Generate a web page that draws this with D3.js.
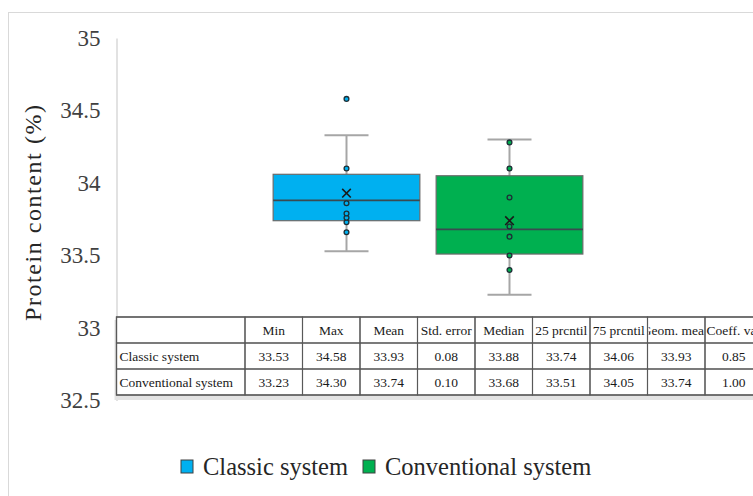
<!DOCTYPE html>
<html lang="en">
<head>
    <meta charset="UTF-8">
    <title>Protein content</title>
    <script src="https://cdn.jsdelivr.net/npm/d3@7"></script>
    <style>
        body {
            margin: 0;
            background: #ffffff;
        }

        svg {
            display: block;
            font-family: "Liberation Serif", "Times New Roman", serif;
        }
    </style>
</head>
<body>
<svg width="753" height="496"></svg>

<script>
    var seriesNames = ['Classic system', 'Conventional system'];
    var seriesColors = ['#00b0f0', '#00b050'];
    var q1 = [33.74, 33.51];
    var medians = [33.88, 33.68];
    var q3 = [34.06, 34.05];
    var whiskerLow = [33.53, 33.23];
    var whiskerHigh = [34.33, 34.30];
    var means = [33.93, 33.74];
    var points = [
        [33.66, 33.73, 33.76, 33.79, 33.86, 34.10, 34.58],
        [33.40, 33.50, 33.63, 33.70, 33.90, 34.10, 34.28]
    ];
    var yTicks = [32.5, 33, 33.5, 34, 34.5, 35];

    // statistics table
    var tableHeaders = ['', 'Min', 'Max', 'Mean', 'Std. error', 'Median', '25 prcntil', '75 prcntil', 'Geom. mean', 'Coeff. var'];
    var classicRow = ['Classic system', '33.53', '34.58', '33.93', '0.08', '33.88', '33.74', '34.06', '33.93', '0.85'];
    var conventionalRow = ['Conventional system', '33.23', '34.30', '33.74', '0.10', '33.68', '33.51', '34.05', '33.74', '1.00'];

    var svg = d3.select('svg');

    // chart area border
    svg.append('rect')
        .attr('x', 8.5)
        .attr('y', 12.5)
        .attr('width', 900)
        .attr('height', 700)
        .attr('fill', '#ffffff')
        .attr('stroke', '#d9d9d9');

    var y = d3.scaleLinear().domain([32.5, 35]).range([400.5, 38]);
    var x = d3.scaleBand().domain(seriesNames).range([265, 591]).paddingInner(0.1).paddingOuter(0.05);

    // y axis
    var yAxis = svg.append('g')
        .attr('transform', 'translate(116.5,0)')
        .call(d3.axisLeft(y).tickValues(yTicks).tickSize(0).tickPadding(16).tickFormat(d3.format('')));
    yAxis.attr('font-family', '"Liberation Serif", "Times New Roman", serif')
        .attr('font-size', 23);
    yAxis.select('.domain').attr('stroke', '#d9d9d9').attr('stroke-width', 1.5);
    yAxis.selectAll('text')
        .attr('fill', '#404040');

    svg.append('text')
        .attr('transform', 'translate(41,213) rotate(-90)')
        .attr('text-anchor', 'middle')
        .attr('fill', '#262626')
        .attr('textLength', 216)
        .attr('lengthAdjust', 'spacing')
        .style('font-size', '24px')
        .text('Protein content (%)');

    // boxes
    var boxes = svg.append('g').selectAll('g')
        .data(seriesNames)
        .enter()
        .append('g');

    boxes.each(function (name, i) {
        var g = d3.select(this);
        var cx = x(name) + x.bandwidth() / 2;
        var capW = 44;

        g.append('line')
            .attr('x1', cx).attr('x2', cx)
            .attr('y1', y(whiskerHigh[i])).attr('y2', y(whiskerLow[i]))
            .attr('stroke', '#a6a6a6').attr('stroke-width', 2);
        g.selectAll('.cap')
            .data([whiskerLow[i], whiskerHigh[i]])
            .enter()
            .append('line')
            .attr('class', 'cap')
            .attr('x1', cx - capW / 2).attr('x2', cx + capW / 2)
            .attr('y1', function (d) { return y(d); })
            .attr('y2', function (d) { return y(d); })
            .attr('stroke', '#a6a6a6').attr('stroke-width', 2);

        g.append('rect')
            .attr('x', x(name))
            .attr('y', y(q3[i]))
            .attr('width', x.bandwidth())
            .attr('height', y(q1[i]) - y(q3[i]))
            .attr('fill', seriesColors[i])
            .attr('stroke', '#6b6b6b')
            .attr('stroke-width', 1.2);

        g.append('line')
            .attr('x1', x(name)).attr('x2', x(name) + x.bandwidth())
            .attr('y1', y(medians[i])).attr('y2', y(medians[i]))
            .attr('stroke', '#3a4a50').attr('stroke-width', 1.6);

        g.selectAll('circle')
            .data(points[i])
            .enter()
            .append('circle')
            .attr('cx', cx)
            .attr('cy', function (d) { return y(d); })
            .attr('r', 2.4)
            .attr('fill', seriesColors[i])
            .attr('stroke', '#1d2f36')
            .attr('stroke-width', 1.3);

        g.append('path')
            .attr('transform', 'translate(' + cx + ',' + y(means[i]) + ')')
            .attr('d', d3.symbol(d3.symbolTimes).size(50))
            .attr('fill', 'none')
            .attr('stroke', '#1a1a1a')
            .attr('stroke-width', 1.6);
    });

    // table
    var tableRows = [tableHeaders, classicRow, conventionalRow];
    var tableLeft = 116.5, tableTop = 317, rowH = 26, firstColW = 128.5, colW = 57.5;

    function colX(c) {
        return c === 0 ? tableLeft : tableLeft + firstColW + (c - 1) * colW;
    }

    function colWidth(c) {
        return c === 0 ? firstColW : colW;
    }

    var tableW = firstColW + (tableHeaders.length - 1) * colW;
    var table = svg.append('g');
    var defs = svg.append('defs');

    table.append('rect')
        .attr('x', tableLeft - 2)
        .attr('y', tableTop + 3)
        .attr('width', tableW)
        .attr('height', rowH * 3 + 2)
        .attr('fill', '#e3e3e3');
    table.append('rect')
        .attr('x', tableLeft)
        .attr('y', tableTop)
        .attr('width', tableW)
        .attr('height', rowH * 3)
        .attr('fill', '#ffffff')
        .attr('stroke', '#595959')
        .attr('stroke-width', 1.3);

    tableRows.forEach(function (row, r) {
        row.forEach(function (cell, c) {
            var cx0 = colX(c), cy0 = tableTop + r * rowH;
            var id = 'cell' + r + '_' + c;
            defs.append('clipPath').attr('id', id)
                .append('rect')
                .attr('x', cx0 + 1).attr('y', cy0)
                .attr('width', colWidth(c) - 2).attr('height', rowH);
            table.append('rect')
                .attr('x', cx0).attr('y', cy0)
                .attr('width', colWidth(c)).attr('height', rowH)
                .attr('fill', 'none')
                .attr('stroke', '#595959')
                .attr('stroke-width', 1.1);
            table.append('text')
                .attr('clip-path', 'url(#' + id + ')')
                .attr('x', c === 0 ? cx0 + 3 : cx0 + colWidth(c) / 2)
                .attr('y', cy0 + rowH / 2)
                .attr('dy', '0.35em')
                .attr('text-anchor', c === 0 ? 'start' : 'middle')
                .attr('fill', '#1a1a1a')
                .style('font-size', '13.5px')
                .text(cell);
        });
    });

    // legend
    var legend = svg.append('g');
    var legendX = [181, 363];
    seriesNames.forEach(function (name, i) {
        legend.append('rect')
            .attr('x', legendX[i]).attr('y', 460)
            .attr('width', 12).attr('height', 13)
            .attr('fill', seriesColors[i])
            .attr('stroke', '#404040')
            .attr('stroke-width', 1);
        legend.append('text')
            .attr('x', legendX[i] + 22)
            .attr('y', 475)
            .attr('fill', '#262626')
            .style('font-size', '24.5px')
            .text(name);
    });
</script>

</body>
</html>
